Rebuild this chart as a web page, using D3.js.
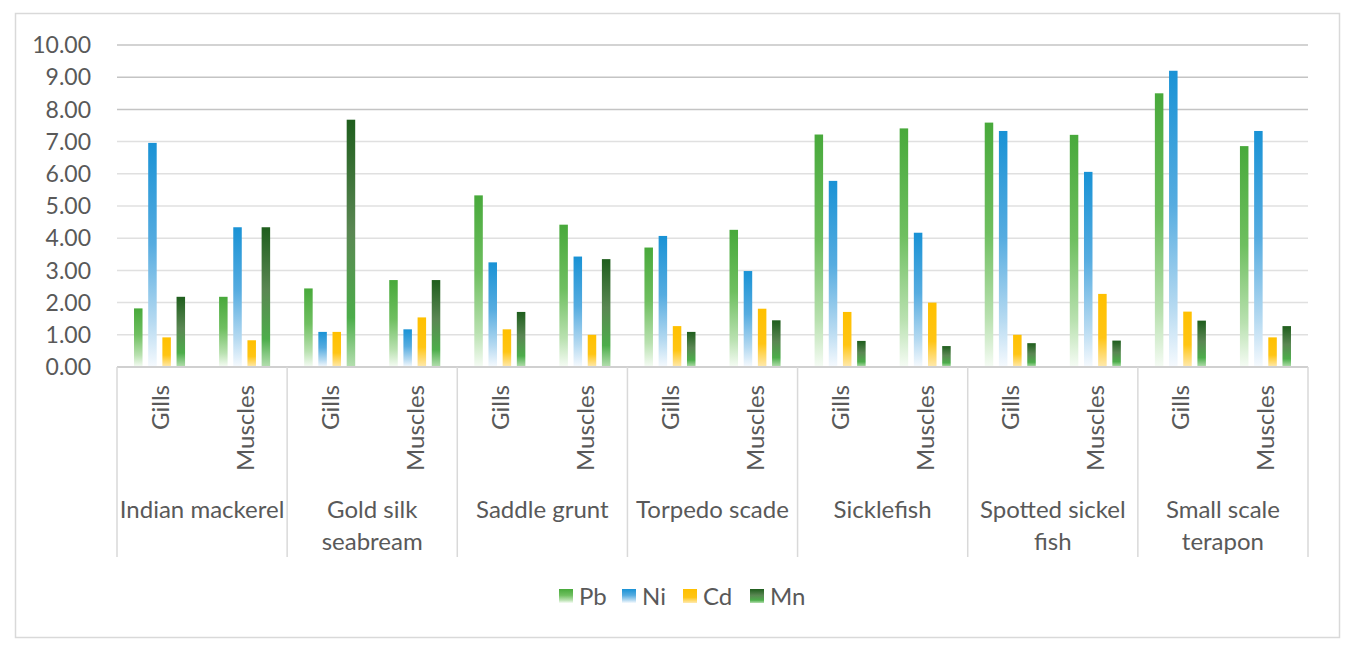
<!DOCTYPE html>
<html>
<head>
<meta charset="utf-8">
<script src="https://cdn.jsdelivr.net/npm/d3@7"></script>
<style>
  body { margin: 0; background: #fff; }
  text { font-family: Lato, "Open Sans", sans-serif; fill: #595959; }
</style>
</head>
<body>
<svg id="chart" width="1364" height="653"></svg>
<script>
// data
var species = ["Indian mackerel", "Gold silk seabream", "Saddle grunt", "Torpedo scade",
               "Sicklefish", "Spotted sickel fish", "Small scale terapon"];
var tissues = ["Gills", "Muscles"];
var series = ["Pb", "Ni", "Cd", "Mn"];
var pb = [1.82, 2.18, 2.44, 2.70, 5.33, 4.42, 3.71, 4.26, 7.22, 7.41, 7.59, 7.21, 8.50, 6.86];
var ni = [6.96, 4.34, 1.09, 1.17, 3.25, 3.43, 4.07, 2.98, 5.78, 4.17, 7.33, 6.06, 9.20, 7.33];
var cd = [0.92, 0.83, 1.09, 1.54, 1.17, 1.00, 1.27, 1.81, 1.71, 2.00, 1.00, 2.27, 1.72, 0.92];
var mn = [2.18, 4.34, 7.68, 2.70, 1.71, 3.35, 1.09, 1.45, 0.81, 0.65, 0.74, 0.82, 1.44, 1.27];
var yTicks = d3.range(0, 11);

// gradient stops per series (top -> bottom)
var gradStops = {
  Pb: [[0, "#48a93b"], [0.45, "#6fbf60"], [0.8, "#b9e1b0"], [1, "#f6fcf5"]],
  Ni: [[0, "#1992d5"], [0.45, "#56ace0"], [0.8, "#b6daf1"], [1, "#f6fafe"]],
  Cd: [[0, "#ffc000"], [0.6, "#ffc514"], [1, "#ffeab0"]],
  Mn: [[0, "#1f5e1d"], [0.45, "#5a8753"], [0.8, "#4cad4a"], [1, "#b5dfb0"]]
};

var values = {Pb: pb, Ni: ni, Cd: cd, Mn: mn};
var rows = [];
species.forEach(function(s, i) {
  tissues.forEach(function(t, j) {
    var k = i * 2 + j;
    rows.push({key: s + "|" + t, species: s, tissue: t,
               vals: series.map(function(n) { return {name: n, v: values[n][k]}; })});
  });
});

var svg = d3.select("#chart");
var plotLeft = 117, plotRight = 1308, plotTop = 45, zeroY = 367, catBottom = 557;

svg.append("rect").attr("x", 15.5).attr("y", 13.5).attr("width", 1324).attr("height", 624)
  .attr("fill", "#fff").attr("stroke", "#d9d9d9").attr("stroke-width", 1.5);

var defs = svg.append("defs");
series.forEach(function(n) {
  var g = defs.append("linearGradient").attr("id", "grad-" + n)
    .attr("x1", 0).attr("y1", 0).attr("x2", 0).attr("y2", 1);
  gradStops[n].forEach(function(s) {
    g.append("stop").attr("offset", s[0]).attr("stop-color", s[1]);
  });
});

var y = d3.scaleLinear().domain([0, 10]).range([zeroY, plotTop]);
var x0 = d3.scaleBand().domain(rows.map(d => d.key)).range([plotLeft, plotRight]);
var x1 = d3.scaleBand().domain(series).range([0, x0.bandwidth()])
  .paddingInner(0.4).paddingOuter(1.2);
var xs = d3.scaleBand().domain(species).range([plotLeft, plotRight]);

// gridlines
svg.append("g").selectAll("line").data(yTicks.filter(d => d > 0)).enter().append("line")
  .attr("x1", plotLeft).attr("x2", plotRight)
  .attr("y1", d => y(d)).attr("y2", d => y(d))
  .attr("stroke", d => d >= 8 ? "#c4c4c4" : "#e0e0e0").attr("stroke-width", 1.5);

// y labels
svg.append("g").selectAll("text").data(yTicks).enter().append("text")
  .attr("x", 91).attr("y", d => y(d)).attr("dy", "0.36em")
  .attr("text-anchor", "end").style("font-size", "23px")
  .text(d => d3.format(".2f")(d));

// bars
var grp = svg.append("g").selectAll("g").data(rows).enter().append("g")
  .attr("transform", d => "translate(" + x0(d.key) + ",0)");
grp.selectAll("rect").data(d => d.vals).enter().append("rect")
  .attr("x", d => x1(d.name)).attr("width", x1.bandwidth())
  .attr("y", d => y(d.v)).attr("height", d => zeroY - y(d.v))
  .attr("fill", d => "url(#grad-" + d.name + ")");

// category axis
svg.append("line").attr("x1", plotLeft).attr("x2", plotRight).attr("y1", zeroY).attr("y2", zeroY)
  .attr("stroke", "#d0d0d0").attr("stroke-width", 2);
var bounds = species.map(s => xs(s)).concat([plotRight]);
svg.append("g").selectAll("line").data(bounds).enter().append("line")
  .attr("x1", d => d).attr("x2", d => d).attr("y1", zeroY).attr("y2", catBottom)
  .attr("stroke", "#d9d9d9").attr("stroke-width", 1.5);

svg.append("g").selectAll("text").data(rows).enter().append("text")
  .attr("transform", d => "translate(" + (x0(d.key) + x0.bandwidth() / 2 + 9) + ",385) rotate(-90)")
  .attr("text-anchor", "end").style("font-size", "24px")
  .text(d => d.tissue);

// species labels, wrapped like the original
var wrapped = {
  "Gold silk seabream": ["Gold silk", "seabream"],
  "Spotted sickel fish": ["Spotted sickel", "fish"],
  "Small scale terapon": ["Small scale", "terapon"]
};
var lab = svg.append("g").selectAll("text").data(species).enter().append("text")
  .attr("x", d => xs(d) + xs.bandwidth() / 2).attr("y", 518)
  .attr("text-anchor", "middle").style("font-size", "24px");
lab.selectAll("tspan").data(d => wrapped[d] || [d]).enter().append("tspan")
  .attr("x", function() { return this.parentNode.getAttribute("x"); })
  .attr("dy", (d, i) => i ? 32 : 0)
  .text(d => d);

// legend
var legX = [559, 622, 683, 750];
var leg = svg.append("g").selectAll("g").data(series).enter().append("g")
  .attr("transform", (d, i) => "translate(" + legX[i] + ",589)");
leg.append("rect").attr("width", 14).attr("height", 14).attr("fill", d => "url(#grad-" + d + ")");
leg.append("text").attr("x", 20).attr("y", 7).attr("dy", "0.36em")
  .style("font-size", "24px").text(d => d);
</script>
</body>
</html>
